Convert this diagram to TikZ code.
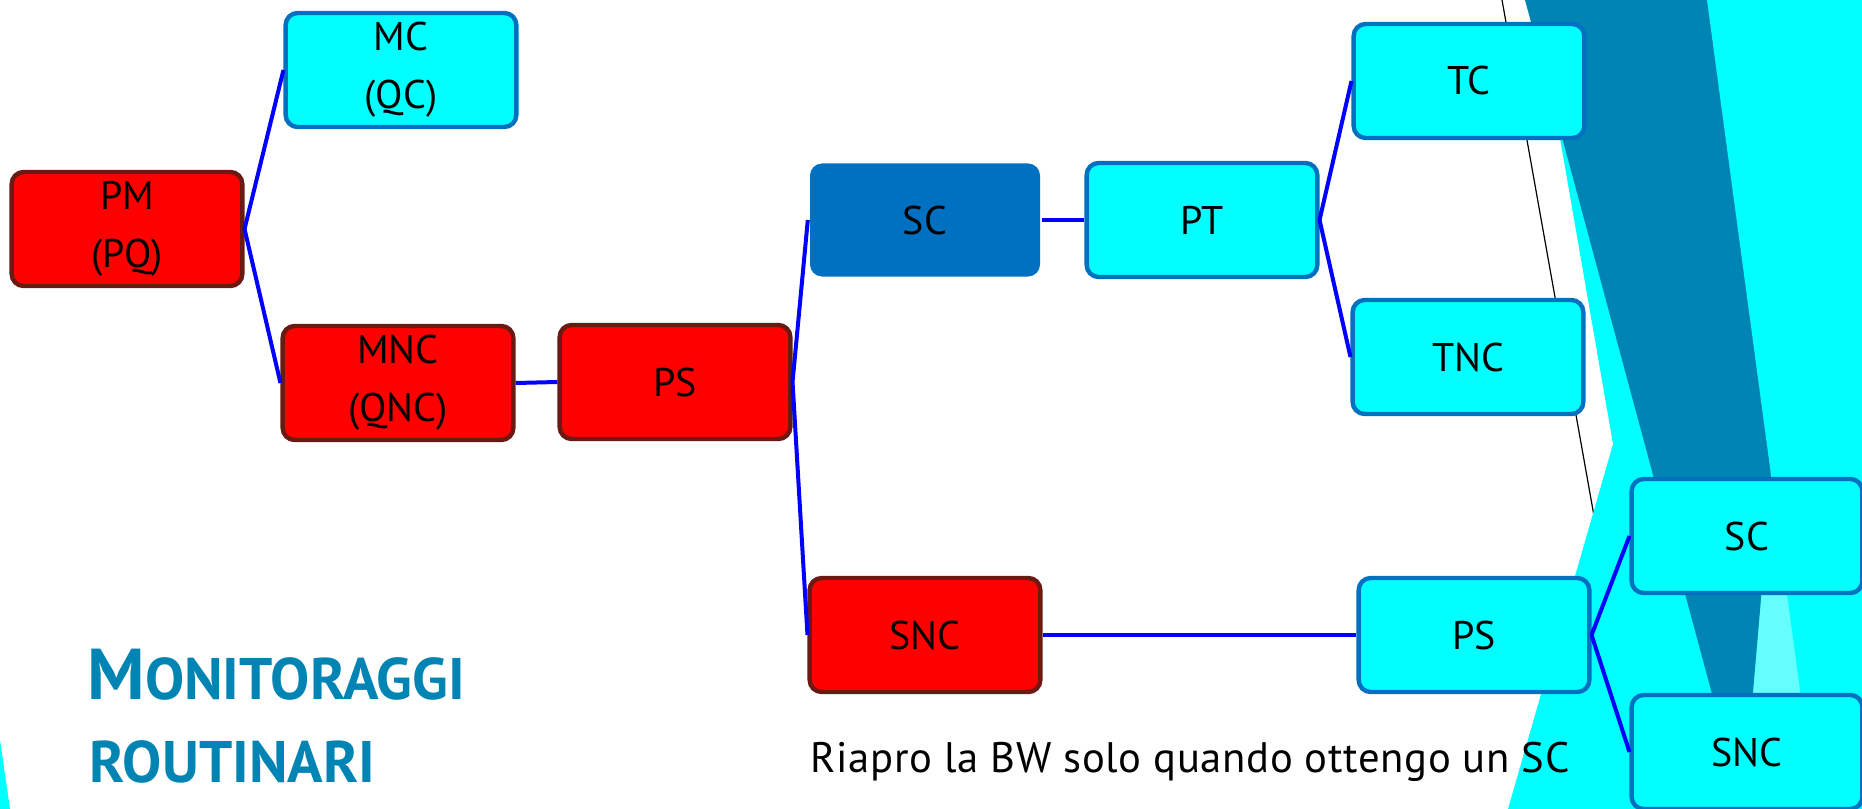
\documentclass[tikz,border=0pt]{standalone}
\usepackage{fontspec}
\setmainfont{PT Sans}

\definecolor{rosso}{RGB}{255,0,0}
\definecolor{bordorosso}{RGB}{106,26,18}
\definecolor{ciano}{RGB}{0,255,255}
\definecolor{bordociano}{RGB}{0,112,192}
\definecolor{bluscuro}{RGB}{0,132,180}
\definecolor{azzurrino}{RGB}{102,255,255}
\definecolor{filoblu}{RGB}{0,0,255}

\tikzset{every picture/.style={line width=0.75pt}}
\tikzset{
  box/.style={rounded corners=9pt, line width=3.3pt, minimum width=173pt, minimum height=85.5pt,
    inner sep=0.75pt, align=center, font=\fontsize{30}{43.5}\selectfont},
  boxrossa/.style={box, draw=bordorosso, fill=rosso},
  boxciano/.style={box, draw=bordociano, fill=ciano},
  boxscura/.style={box, draw=none, fill=bordociano, minimum width=172.5pt, minimum height=84.75pt},
  filo/.style={draw=filoblu, line width=3pt},
}

\begin{document}
\begin{tikzpicture}[x=0.75pt,y=0.75pt,yscale=-1,xscale=1]

\useasboundingbox (0,0) rectangle (1862,809);

% sfondo
\draw [black, line width=0.9pt] (1502,0) -- (1594,516) ;
\fill [ciano] (1536,0) -- (1613,444) -- (1508,809) -- (1862,809) -- (1862,0) -- cycle ;
\fill [azzurrino] (1812,0) -- (1862,0) -- (1862,809) -- (1743,809) -- cycle ;
\fill [bluscuro] (1525,0) -- (1812,0) -- (1743,809) -- cycle ;
\fill [ciano] (1707,0) -- (1862,0) -- (1862,809) -- (1816,809) -- cycle ;
\fill [ciano] (0,740) -- (10,809) -- (0,809) -- cycle ;

\node [boxrossa] (pm) at (127,229) {PM\\(PQ)};
\node [boxciano] (mc) at (401,70) {MC\\(QC)};
\node [boxrossa] (mnc) at (398,383) {MNC\\(QNC)};
\node [boxrossa] (ps) at (675,382) {PS};
\node [boxscura] (sc) at (925,220) {SC};
\node [boxciano] (pt) at (1202,220) {PT};
\node [boxciano] (tc) at (1469,81) {TC};
\node [boxciano] (tnc) at (1468,357) {TNC};
\node [boxrossa] (snc) at (925,635) {SNC};
\node [boxciano] (psb) at (1474,635) {PS};
\node [boxciano] (scb) at (1747,536) {SC};
\node [boxciano] (sncb) at (1747,752) {SNC};

\draw [filo] (pm.east) -- (mc.west) ;
\draw [filo] (pm.east) -- (mnc.west) ;
\draw [filo] (mnc.east) -- (ps.west) ;
\draw [filo] (ps.east) -- (sc.west) ;
\draw [filo] (ps.east) -- (snc.west) ;
\draw [filo] (sc.east) -- (pt.west) ;
\draw [filo] (pt.east) -- (tc.west) ;
\draw [filo] (pt.east) -- (tnc.west) ;
\draw [filo] (snc.east) -- (psb.west) ;
\draw [filo] (psb.east) -- (scb.west) ;
\draw [filo] (psb.east) -- (sncb.west) ;

\node [anchor=base west, inner sep=0pt, text=bluscuro, font=\bfseries\fontsize{44}{44}\selectfont] (titolo) at (87,699) {{\fontsize{54}{54}\selectfont M}ONITORAGGI};
\node [anchor=base west, inner sep=0pt, text=bluscuro, font=\bfseries\fontsize{44}{44}\selectfont] (sottotitolo) at (89,782) {ROUTINARI};

\node [anchor=base west, inner sep=0pt, font=\fontsize{32}{32}\selectfont\addfontfeature{LetterSpace=1.5}] (nota) at (810,772) {Riapro la BW solo quando ottengo un SC};

\end{tikzpicture}
\end{document}
